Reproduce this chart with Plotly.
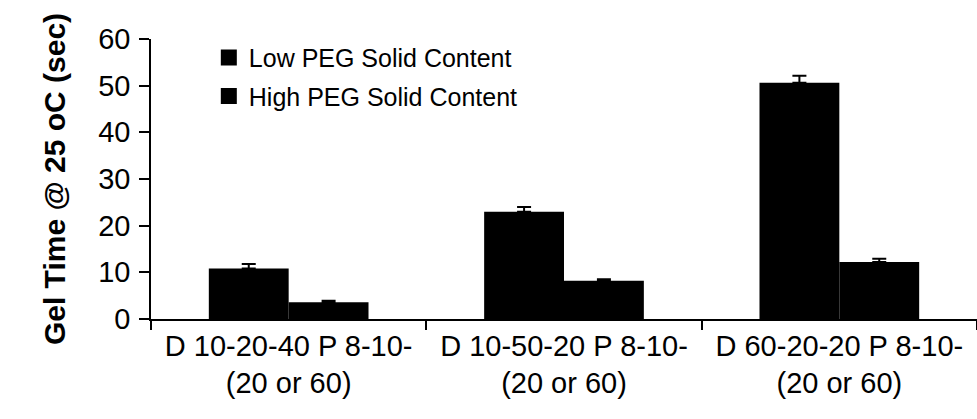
import plotly.graph_objects as go

categories = ["D 10-20-40 P 8-10-<br>(20 or 60)",
              "D 10-50-20 P 8-10-<br>(20 or 60)",
              "D 60-20-20 P 8-10-<br>(20 or 60)"]
low_peg = [10.8, 23.0, 50.6]
low_peg_err = [1.0, 1.0, 1.5]
high_peg = [3.6, 8.2, 12.2]
high_peg_err = [0.3, 0.3, 0.7]
series_names = ["Low PEG Solid Content", "High PEG Solid Content"]

font_family = "Liberation Sans, Arial, Helvetica, sans-serif"

fig = go.Figure()
for name, vals, errs in [(series_names[0], low_peg, low_peg_err),
                         (series_names[1], high_peg, high_peg_err)]:
    fig.add_trace(go.Bar(
        x=categories, y=vals, name=name, showlegend=False,
        marker=dict(color="black", line=dict(width=0)),
        error_y=dict(type="data", array=errs, color="black", thickness=2,
                     width=7, symmetric=False),
    ))

# legend keys drawn as large filled squares
for i, name in enumerate(series_names):
    fig.add_trace(go.Scatter(
        x=[None], y=[None], mode="markers", name=name, legendgroup=f"g{i}",
        marker=dict(symbol="square", size=16, color="black"),
    ))

fig.update_layout(
    width=977, height=419,
    margin=dict(l=151, r=0, t=39, b=100),
    paper_bgcolor="white", plot_bgcolor="white",
    barmode="group", bargap=0.42, bargroupgap=0,
    font=dict(family=font_family, color="black"),
    showlegend=True,
    legend=dict(x=0.07, y=1.015, xanchor="left", yanchor="top",
                traceorder="grouped", tracegroupgap=3, itemsizing="trace",
                itemwidth=30,
                font=dict(size=25, family=font_family, color="black"),
                bgcolor="rgba(0,0,0,0)"),
    xaxis=dict(showline=True, linecolor="black", linewidth=1.5,
               ticks="outside", tickson="boundaries", ticklen=9, tickcolor="black",
               tickwidth=1.5, tickfont=dict(size=29, family=font_family),
               showgrid=False, zeroline=False),
    yaxis=dict(range=[0, 60], tickvals=[0, 10, 20, 30, 40, 50, 60],
               showline=True, linecolor="black", linewidth=1.5,
               ticks="outside", ticklen=10, tickcolor="black", tickwidth=1.5,
               tickfont=dict(size=29, family=font_family), ticklabelstandoff=3,
               showgrid=False, zeroline=False,
               title=dict(text="<b>Gel Time @ 25 oC (sec)</b>",
                          font=dict(size=30, family=font_family), standoff=24)),
)

fig.write_html("out.html")
